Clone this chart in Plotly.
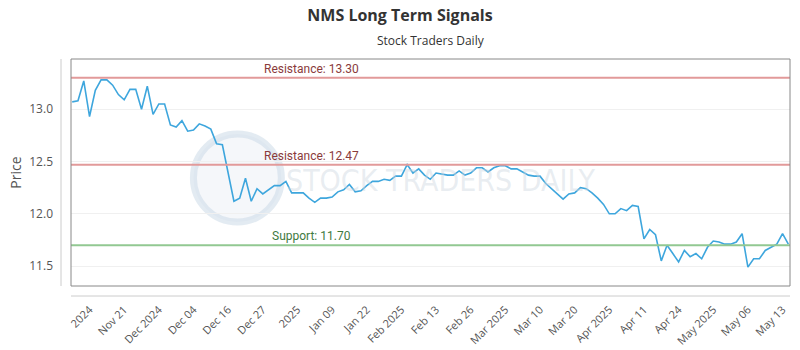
import plotly.graph_objects as go

prices = [
    13.07, 13.08, 13.27, 12.93, 13.18, 13.28, 13.28, 13.23, 13.14, 13.09,
    13.19, 13.19, 13.00, 13.22, 12.95, 13.05, 13.05, 12.85, 12.83, 12.89,
    12.79, 12.80, 12.86, 12.84, 12.81, 12.67, 12.66, 12.40, 12.12, 12.15,
    12.34, 12.12, 12.24, 12.19, 12.23, 12.27, 12.27, 12.31, 12.20, 12.20,
    12.20, 12.15, 12.11, 12.15, 12.15, 12.16, 12.21, 12.23, 12.28, 12.21,
    12.22, 12.27, 12.31, 12.31, 12.33, 12.32, 12.36, 12.36, 12.47, 12.39,
    12.43, 12.37, 12.33, 12.39, 12.38, 12.37, 12.37, 12.41, 12.37, 12.39,
    12.44, 12.44, 12.40, 12.44, 12.46, 12.46, 12.43, 12.43, 12.40, 12.37,
    12.36, 12.36, 12.29, 12.24, 12.19, 12.14, 12.19, 12.20, 12.25, 12.24,
    12.20, 12.15, 12.09, 12.00, 12.00, 12.05, 12.03, 12.08, 12.07, 11.76,
    11.85, 11.80, 11.55, 11.70, 11.62, 11.54, 11.65, 11.59, 11.62, 11.57,
    11.68, 11.74, 11.73, 11.71, 11.71, 11.73, 11.81, 11.49, 11.57, 11.57,
    11.65, 11.68, 11.71, 11.81, 11.71,
]
tick_labels = ["2024", "Nov 21", "Dec 2024", "Dec 04", "Dec 16", "Dec 27", "2025",
               "Jan 09", "Jan 22", "Feb 2025", "Feb 13", "Feb 26", "Mar 2025",
               "Mar 10", "Mar 20", "Apr 2025", "Apr 11", "Apr 24", "May 2025",
               "May 06", "May 13"]
tick_index = [3 + 6 * i for i in range(len(tick_labels))]
resistance_levels = [13.30, 12.47]
support_levels = [11.70]

x = list(range(len(prices)))

fig = go.Figure()
fig.add_trace(go.Scatter(x=x, y=prices, mode="lines",
                         line=dict(color="#3ea6dd", width=1.6),
                         hoverinfo="skip", showlegend=False))

PW, PH = 719.5, 227.0
shapes = []
annotations = []
# watermark
shapes.append(dict(type="circle", xref="paper", yref="paper",
                   x0=(193 - 70.5) / PW, x1=(281 - 70.5) / PW,
                   y0=(286 - 222) / PH, y1=(286 - 134) / PH,
                   line=dict(color="rgba(200,215,230,0.5)", width=7),
                   fillcolor="rgba(225,233,242,0.35)", layer="below"))
annotations.append(dict(xref="paper", yref="paper",
                        x=(440 - 70.5) / PW, y=(286 - 180) / PH,
                        text="STOCK TRADERS DAILY", showarrow=False,
                        font=dict(family="DejaVu Sans Condensed", size=30,
                                  color="rgba(205,215,225,0.45)")))

for lv in resistance_levels:
    shapes.append(dict(type="line", xref="paper", yref="y", x0=0, x1=1,
                       y0=lv, y1=lv, line=dict(color="#e29a9a", width=2)))
    annotations.append(dict(x=32.9, y=lv, xref="x", yref="y",
                            text=f"Resistance: {lv:.2f}", showarrow=False,
                            xanchor="left", yanchor="bottom", yshift=0,
                            font=dict(family="Roboto", size=12, color="#8a3b3b")))
for lv in support_levels:
    shapes.append(dict(type="line", xref="paper", yref="y", x0=0, x1=1,
                       y0=lv, y1=lv, line=dict(color="#92c892", width=2)))
    annotations.append(dict(x=34.2, y=lv, xref="x", yref="y",
                            text=f"Support: {lv:.2f}", showarrow=False,
                            xanchor="left", yanchor="bottom", yshift=0,
                            font=dict(family="Roboto", size=12, color="#3f7a3f")))

# plot border and detached axis lines
shapes.append(dict(type="rect", xref="paper", yref="paper", x0=0, x1=1, y0=0, y1=1,
                   line=dict(color="#888888", width=1)))
shapes.append(dict(type="line", xref="paper", yref="paper",
                   x0=-10 / PW, x1=-10 / PW, y0=0, y1=1,
                   line=dict(color="#cccccc", width=1)))
shapes.append(dict(type="line", xref="paper", yref="paper",
                   x0=0, x1=1, y0=-10 / PH, y1=-10 / PH,
                   line=dict(color="#cccccc", width=1)))

annotations.append(dict(xref="paper", yref="paper", x=0.5, y=1,
                        xanchor="center", yanchor="middle", yshift=19,
                        text="Stock Traders Daily", showarrow=False,
                        font=dict(family="Open Sans", size=12, color="#333333")))

fig.update_layout(
    width=800, height=350,
    margin=dict(l=70.5, r=10, t=59, b=64),
    paper_bgcolor="white", plot_bgcolor="white",
    title=dict(text="<b>NMS Long Term Signals</b>", x=0.5, xanchor="center",
               y=1 - 15 / 350, yanchor="middle",
               font=dict(family="Open Sans", size=16, color="#333333")),
    shapes=shapes, annotations=annotations,
    xaxis=dict(range=[-0.21, 124.29], tickmode="array", tickvals=tick_index,
               ticktext=tick_labels, tickangle=-45, showgrid=False,
               zeroline=False, showline=False, ticks="outside", ticklen=12,
               tickcolor="rgba(0,0,0,0)", automargin=False,
               tickfont=dict(family="Open Sans", size=11, color="#555555")),
    yaxis=dict(range=[11.31, 13.48], tickvals=[11.5, 12.0, 12.5, 13.0],
               ticktext=["11.5", "12.0", "12.5", "13.0"],
               showgrid=True, gridcolor="#f0f0f0", zeroline=False,
               showline=False, ticks="", ticklabelstandoff=17, automargin=False,
               title=dict(text="Price", standoff=4,
                          font=dict(family="Open Sans", size=14, color="#555555")),
               tickfont=dict(family="Open Sans", size=12, color="#555555")),
)

fig.write_html("out.html")
